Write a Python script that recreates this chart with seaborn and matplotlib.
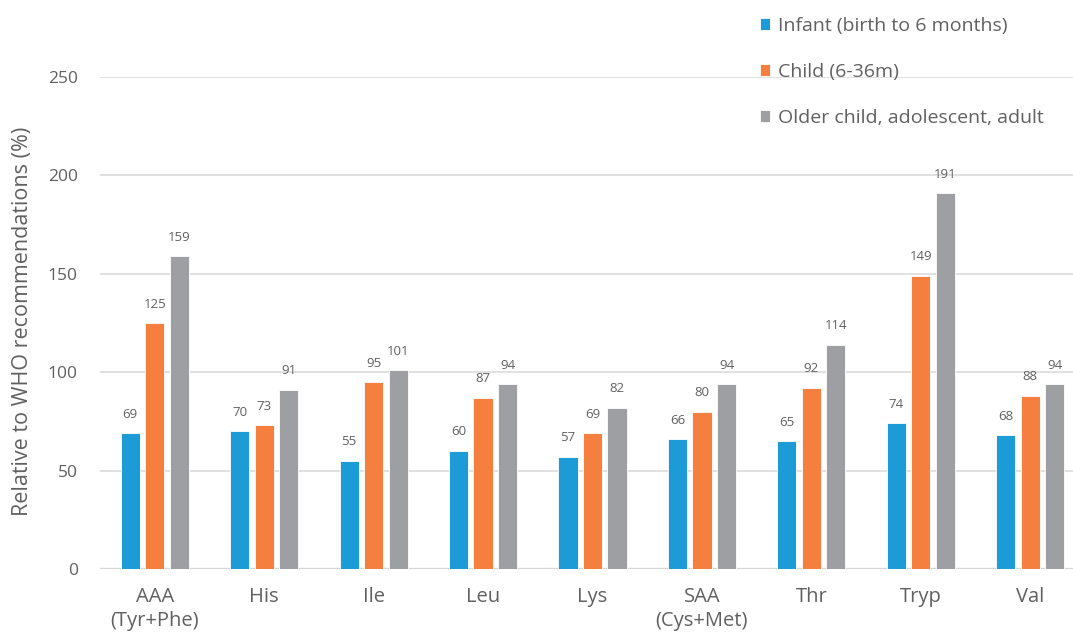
import matplotlib
matplotlib.use("Agg")
import matplotlib.pyplot as plt
import seaborn as sns
import pandas as pd

# Amino acid intake relative to WHO requirements, by age group
amino_acids = ["AAA", "His", "Ile", "Leu", "Lys", "SAA", "Thr", "Tryp", "Val"]
tick_labels = ["AAA\n(Tyr+Phe)", "His", "Ile", "Leu", "Lys", "SAA\n(Cys+Met)", "Thr", "Tryp", "Val"]
groups = ["Infant (birth to 6 months)", "Child (6-36m)", "Older child, adolescent, adult"]
infant = [69, 70, 55, 60, 57, 66, 65, 74, 68]
child = [125, 73, 95, 87, 69, 80, 92, 149, 88]
older = [159, 91, 101, 94, 82, 94, 114, 191, 94]
colors = ["#1C9BD7", "#F47F3E", "#9D9FA3"]

sns.set_theme(style="white")
plt.rcParams["font.family"] = ["Open Sans", "DejaVu Sans"]
text_color = "#606060"

df = pd.DataFrame({
    "aa": amino_acids * 3,
    "group": [groups[0]] * 9 + [groups[1]] * 9 + [groups[2]] * 9,
    "value": infant + child + older,
})

fig = plt.figure(figsize=(10.73, 6.35), dpi=100)
ax = fig.add_axes([100 / 1073, 1 - 569 / 635, 985 / 1073, 492 / 635])

sns.barplot(data=df, x="aa", y="value", hue="group", order=amino_acids,
            hue_order=groups, palette=colors, width=0.672, gap=0.22,
            edgecolor="white", linewidth=0.6, saturation=1, ax=ax, legend=True)

for cont in ax.containers:
    ax.bar_label(cont, fmt="%d", padding=9, fontsize=9.5, color=text_color)

ax.set_ylim(0, 250)
ax.set_xlim(-0.5, 8.5)
ax.set_yticks([0, 50, 100, 150, 200, 250])
ax.yaxis.grid(True, color="#D9D9D9", linewidth=1.1)
ax.set_axisbelow(True)
for s in ["top", "right", "left", "bottom"]:
    ax.spines[s].set_visible(False)
ax.axhline(0, color="#D0D0D0", linewidth=1.6, zorder=0.5)

ax.set_xticks(range(len(amino_acids)))
ax.set_xticklabels(tick_labels, linespacing=1.25)
ax.tick_params(axis="x", length=0, pad=13, labelsize=14.5, labelcolor=text_color)
ax.tick_params(axis="y", length=0, pad=16, labelsize=12.5, labelcolor=text_color)
ax.set_xlabel("")
ax.set_ylabel("Relative to WHO recommendations (%)", fontsize=15.5, color=text_color)
ax.yaxis.set_label_coords(-0.068, 0.503)

handles, labels = ax.get_legend_handles_labels()
ax.get_legend().remove()
fig.legend(handles, labels, loc="upper left", bbox_to_anchor=(752 / 1073, 1 - 9 / 635),
           frameon=False, fontsize=14, labelcolor=text_color,
           handlelength=0.55, handleheight=0.55, handletextpad=0.4,
           labelspacing=1.45, borderaxespad=0)

fig.savefig("out.png", dpi=100)
